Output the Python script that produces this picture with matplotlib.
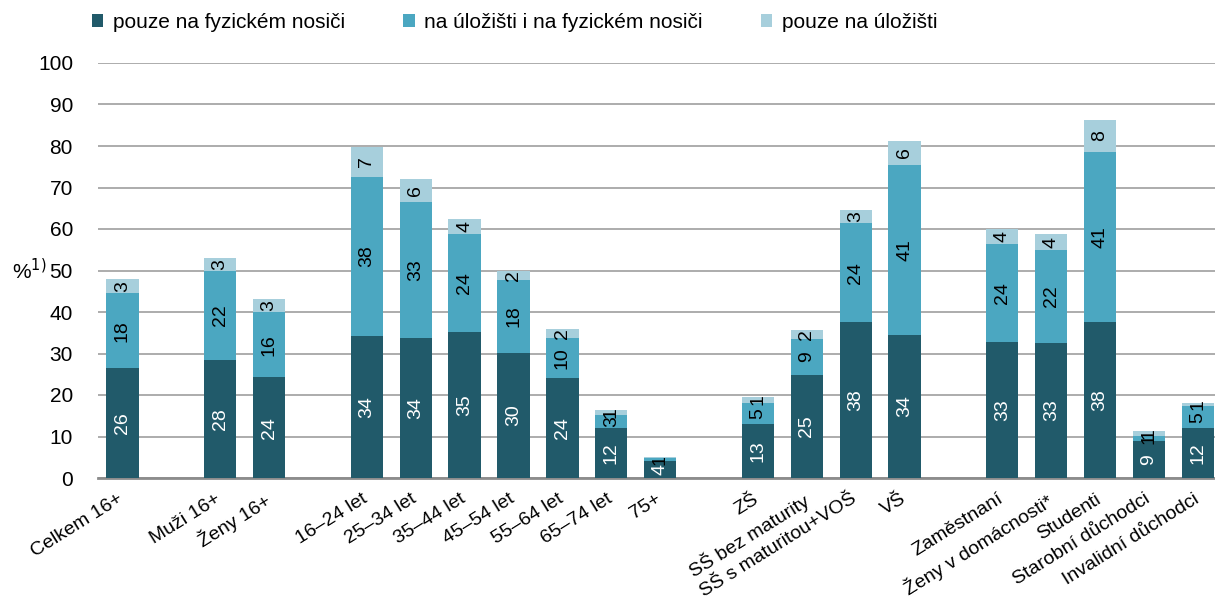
import numpy as np
import matplotlib
matplotlib.use('Agg')
import matplotlib.pyplot as plt
import matplotlib.transforms as mtrans
from matplotlib.patches import Patch

plt.rcParams['font.family'] = ['Liberation Sans', 'DejaVu Sans']

# Categories (empty string = gap between groups)
categories = ['Celkem 16+', '', 'Muži 16+', 'Ženy 16+', '',
              '16–24 let', '25–34 let', '35–44 let', '45–54 let', '55–64 let', '65–74 let', '75+', '',
              'ZŠ', 'SŠ bez maturity', 'SŠ s maturitou+VOŠ', 'VŠ', '',
              'Zaměstnaní', 'Ženy v domácnosti*', 'Studenti', 'Starobní důchodci', 'Invalidní důchodci']

# values in %, None for gaps
only_physical = [26.4, None, 28.4, 24.3, None,
                 34.2, 33.7, 35.2, 30.1, 24.1, 12.0, 4.2, None,
                 13.0, 24.8, 37.6, 34.5, None,
                 32.8, 32.6, 37.6, 8.9, 12.0]
both = [18.2, None, 21.6, 15.6, None,
        38.3, 32.8, 23.6, 17.6, 9.6, 3.2, 0.6, None,
        5.1, 8.7, 23.8, 40.9, None,
        23.6, 22.4, 41.0, 1.2, 5.3]
only_cloud = [3.3, None, 3.1, 3.3, None,
              7.3, 5.6, 3.6, 2.2, 2.2, 1.2, 0.2, None,
              1.4, 2.2, 3.2, 5.8, None,
              3.6, 3.7, 7.6, 1.2, 0.8]

series_names = ['pouze na fyzickém nosiči', 'na úložišti i na fyzickém nosiči', 'pouze na úložišti']
colors = ['#215a6a', '#4ba7c1', '#a7cfdc']
text_colors = ['white', 'black', 'black']

fig = plt.figure(figsize=(12.15, 6.1), dpi=100)
ax = fig.add_axes([98 / 1215, 132 / 610, 1117 / 1215, 415 / 610])

x = np.arange(len(categories))
bottom = np.zeros(len(categories))
for vals, col, tcol in zip([only_physical, both, only_cloud], colors, text_colors):
    v = np.array([0 if a is None else a for a in vals], dtype=float)
    bars = ax.bar(x, v, 0.66, bottom=bottom, color=col, zorder=3)
    labels = ['' if (a is None or a < 0.5) else f'{round(a)}' for a in vals]
    ax.bar_label(bars, labels=labels, label_type='center', rotation=90,
                 color=tcol, fontsize=14)
    bottom += v

ax.set_ylim(0, 100)
ax.set_xlim(-0.5, 22.35)
ax.set_yticks(range(0, 101, 10))
ax.yaxis.grid(True, color='#a6a6a6', linewidth=1.3, zorder=0)
ax.set_axisbelow(True)
for s in ['top', 'right', 'left']:
    ax.spines[s].set_visible(False)
ax.spines['bottom'].set_color('#8c8c8c')
ax.spines['bottom'].set_linewidth(2)
ax.tick_params(axis='y', length=0, labelsize=15, pad=18)
ax.tick_params(axis='x', length=0, labelsize=14, pad=9)

tick_pos = [i for i, c in enumerate(categories) if c]
ax.set_xticks(tick_pos)
ax.set_xticklabels([categories[i] for i in tick_pos], rotation=32, ha='right',
                   va='top', rotation_mode='anchor')
shift = mtrans.ScaledTranslation(-5 / 100, 0, fig.dpi_scale_trans)
for lab in ax.get_xticklabels():
    lab.set_transform(lab.get_transform() + shift)

fig.text(12 / 1215, (610 - 271) / 610, '%$^{1)}$', fontsize=15, va='center', ha='left')

handles = [Patch(facecolor=c, edgecolor='none') for c in colors]
fig.legend(handles, series_names, loc='upper left', bbox_to_anchor=(92 / 1215, 1 - 13 / 610),
           ncol=3, frameon=False, fontsize=15, handlelength=0.55, handleheight=0.55,
           handletextpad=0.45, columnspacing=2.8, borderpad=0, borderaxespad=0)

fig.savefig('out.png', dpi=100)
